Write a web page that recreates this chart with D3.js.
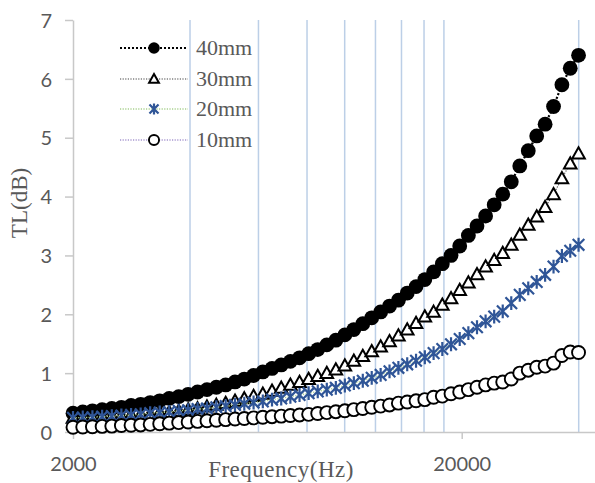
<!DOCTYPE html>
<html><head><meta charset="utf-8">
<script src="https://cdn.jsdelivr.net/npm/d3@7"></script>
<style>body{margin:0;background:#fff}svg{display:block}</style>
</head><body><div id="chart"></div>
<script>
const freqs = [2000,2119,2244,2377,2517,2664,2821,2986,3159,3343,3536,3741,3956,4183,4423,4675,4941,5222,5517,5829,6157,6502,6866,7249,7653,8077,8524,8994,9489,10009,10557,11132,11737,12374,13042,13746,14484,15261,16076,16933,17831,18775,19766,20806,21897,23042,24244,25504,26826,28212,29665,31188,32783,34458,36209,38044,39960];
const tl40 = [0.32,0.34,0.36,0.38,0.40,0.42,0.45,0.47,0.50,0.53,
  0.57,0.60,0.64,0.68,0.72,0.76,0.80,0.85,0.90,0.96,
  1.02,1.08,1.14,1.20,1.26,1.33,1.40,1.48,1.56,1.65,
  1.74,1.84,1.94,2.04,2.14,2.24,2.36,2.47,2.59,2.72,
  2.86,3.00,3.16,3.34,3.50,3.67,3.86,4.04,4.25,4.52,
  4.78,5.03,5.23,5.53,5.90,6.18,6.40];
const tl30 = [0.24,0.245,0.25,0.26,0.27,0.28,0.29,0.30,0.31,0.33,
  0.34,0.36,0.38,0.40,0.43,0.46,0.49,0.53,0.57,0.61,
  0.65,0.70,0.75,0.80,0.85,0.90,0.95,1.00,1.06,1.13,
  1.21,1.29,1.37,1.45,1.54,1.64,1.74,1.85,1.96,2.04,
  2.16,2.27,2.41,2.54,2.68,2.81,2.92,3.04,3.18,3.35,
  3.52,3.66,3.82,4.04,4.31,4.56,4.73];
const tl20 = [0.24,0.245,0.25,0.26,0.27,0.28,0.29,0.30,0.32,0.33,
  0.34,0.36,0.37,0.39,0.40,0.42,0.44,0.46,0.48,0.50,
  0.52,0.55,0.57,0.60,0.63,0.66,0.69,0.72,0.75,0.79,
  0.83,0.87,0.92,0.97,1.03,1.09,1.15,1.21,1.27,1.34,
  1.41,1.49,1.58,1.68,1.78,1.88,1.96,2.05,2.19,2.33,
  2.44,2.55,2.67,2.81,2.99,3.08,3.18];
const tl10 = [0.08,0.085,0.09,0.095,0.10,0.11,0.115,0.12,0.13,0.14,
  0.15,0.16,0.17,0.18,0.19,0.20,0.21,0.22,0.23,0.24,
  0.25,0.26,0.27,0.28,0.29,0.30,0.315,0.33,0.345,0.36,
  0.38,0.40,0.42,0.44,0.46,0.49,0.51,0.53,0.55,0.59,
  0.61,0.65,0.68,0.72,0.76,0.80,0.83,0.85,0.90,1.00,
  1.05,1.10,1.12,1.17,1.30,1.36,1.35];
const seriesNames = ["40mm","30mm","20mm","10mm"];
const xTicks = [2000,20000];
const yTicks = [0,1,2,3,4,5,6,7];
const gridFreqs = [4000,6000,8000,10000,12000,14000,16000,18000,40000];

(function(){
const W = 595, H = 483;
const mLeft = 73, mRight = 595, mTop = 20, mBottom = 432;
const decadeEnd = 461.7;

const svg = d3.select("#chart").append("svg").attr("width", W).attr("height", H);

const x0 = d3.scaleLog().domain([2000, 20000]).range([mLeft, decadeEnd]);
const xMax = x0.invert(mRight);
const x = d3.scaleLog().domain([2000, xMax]).range([mLeft, mRight]);
const y = d3.scaleLinear().domain([0, 7]).range([mBottom, mTop]);

svg.append("g").selectAll("line").data(gridFreqs).join("line")
  .attr("x1", d => x(d)).attr("x2", d => x(d))
  .attr("y1", y(7)).attr("y2", y(0))
  .attr("stroke", "#bccfe7").attr("stroke-width", 1.5);

const gx = svg.append("g").attr("transform", `translate(0,${mBottom})`)
  .call(d3.axisBottom(x).tickValues(xTicks).tickFormat(d3.format("d")).tickSize(7).tickSizeOuter(0));
const gy = svg.append("g").attr("transform", `translate(${mLeft},0)`)
  .call(d3.axisLeft(y).tickValues(yTicks).tickFormat(d3.format("d")).tickSize(8).tickSizeOuter(0));
[gx, gy].forEach(g => {
  g.select(".domain").attr("stroke", "#c8c8c8").attr("stroke-width", 1.5);
  g.selectAll(".tick line").attr("stroke", "#c8c8c8").attr("stroke-width", 1.5);
  g.selectAll("text").attr("fill", "#595959").style("font-family", "Lato, sans-serif").style("font-size", "20px");
});
gx.selectAll("text").attr("y", 39).attr("dy", 0);
gy.selectAll("text").attr("x", -21).attr("dy", "0.36em");

svg.append("text").attr("x", 281).attr("y", 477).attr("text-anchor", "middle")
  .attr("fill", "#595959").style("font-family", "'Liberation Serif', serif").style("font-size", "23px")
  .style("letter-spacing", "0.5px")
  .text("Frequency(Hz)");
svg.append("text").attr("transform", "translate(27,203) rotate(-90)").attr("text-anchor", "middle")
  .attr("fill", "#595959").style("font-family", "'Liberation Serif', serif").style("font-size", "23px")
  .text("TL(dB)");

const styles = [
  {name: seriesNames[0], data: tl40, line: "#000", lw: 2.2, dash: "2 2", marker: "fcircle"},
  {name: seriesNames[1], data: tl30, line: "#404040", lw: 1.1, dash: "1.2 1.4", marker: "tri"},
  {name: seriesNames[2], data: tl20, line: "#a9d18e", lw: 1.3, dash: "1.2 1.4", marker: "star"},
  {name: seriesNames[3], data: tl10, line: "#a797cf", lw: 1.3, dash: "1.2 1.4", marker: "ocircle"}
];

function drawMarker(g, type, s) {
  if (type === "fcircle") {
    g.append("circle").attr("r", 7.4 * s).attr("fill", "#000");
  } else if (type === "ocircle") {
    g.append("circle").attr("r", 6.5 * s).attr("fill", "#fff").attr("stroke", "#000").attr("stroke-width", 1.9);
  } else if (type === "tri") {
    const h = 6.3 * s;
    g.append("path").attr("d", `M0,${-h}L${h},${h*0.78}L${-h},${h*0.78}Z`)
      .attr("fill", "#fff").attr("stroke", "#000").attr("stroke-width", 2);
  } else if (type === "star") {
    const r = 5.8 * s;
    g.append("path").attr("d", `M${-r},${-r}L${r},${r}M${-r},${r}L${r},${-r}M0,${-r*1.2}L0,${r*1.2}`)
      .attr("stroke", "#2f5597").attr("stroke-width", 2.2).attr("fill", "none");
  }
}

const line = d3.line().x((d, i) => x(freqs[i])).y(d => y(d));
styles.forEach(st => {
  const g = svg.append("g");
  g.append("path").datum(st.data).attr("d", line).attr("fill", "none")
    .attr("stroke", st.line).attr("stroke-width", st.lw).attr("stroke-dasharray", st.dash);
  st.data.forEach((v, i) => {
    const m = g.append("g").attr("transform", `translate(${x(freqs[i])},${y(v)})`);
    drawMarker(m, st.marker, 1);
  });
});

const legRows = [48, 79, 109, 140];
const lg = svg.append("g");
styles.forEach((st, i) => {
  const ry = legRows[i];
  lg.append("line").attr("x1", 120).attr("x2", 188).attr("y1", ry).attr("y2", ry)
    .attr("stroke", st.line).attr("stroke-width", st.lw).attr("stroke-dasharray", st.dash);
  const m = lg.append("g").attr("transform", `translate(154,${ry})`);
  drawMarker(m, st.marker, 0.78);
  lg.append("text").attr("x", 196).attr("y", ry + 7).attr("fill", "#595959")
    .style("font-family", "'Liberation Serif', serif").style("font-size", "22px").text(st.name);
});
})();
</script></body></html>
